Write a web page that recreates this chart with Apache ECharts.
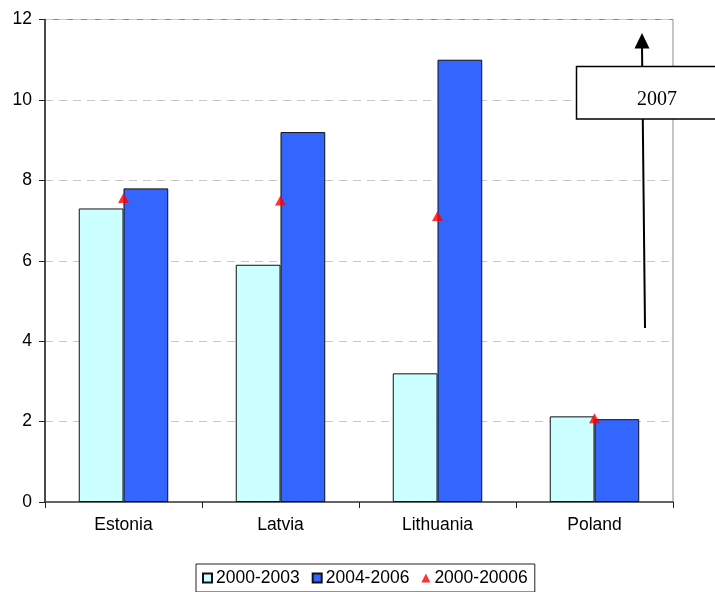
<!DOCTYPE html>
<html>
<head>
<meta charset="utf-8">
<style>
  html, body { margin: 0; padding: 0; background: #fff; }
  #chart { width: 715px; height: 592px; }
</style>
<script src="https://cdn.jsdelivr.net/npm/echarts@6/dist/echarts.min.js"></script>
</head>
<body>
<div id="chart"></div>
<script>
// Countries on the category axis
const countries = ['Estonia', 'Latvia', 'Lithuania', 'Poland'];
// Average growth per period
const period2000to2003 = [7.3, 5.9, 3.2, 2.13];
const period2004to2006 = [7.8, 9.2, 11.0, 2.06];
const period2000to2006 = [7.56, 7.5, 7.11, 2.08];
// Value axis ticks
const yTicks = [0, 2, 4, 6, 8, 10, 12];

const seriesNames = ['2000-2003', '2004-2006', '2000-20006'];
const font = 'Liberation Sans, Arial, sans-serif';

const chart = echarts.init(document.getElementById('chart'), null, { renderer: 'canvas' });

chart.setOption({
  animation: false,
  backgroundColor: '#ffffff',
  grid: {
    left: 45, right: 42, top: 19.5, bottom: 90,
    show: true, borderColor: '#8c8c8c', borderWidth: 1, backgroundColor: 'transparent'
  },
  legend: {
    left: 196, top: 564,
    padding: [5, 7, 5, 6],
    borderColor: '#222', borderWidth: 1,
    itemWidth: 9, itemHeight: 9, itemGap: 12,
    textStyle: { fontFamily: font, fontSize: 17.5, color: '#000', padding: [0, 0, 0, -1] },
    data: [
      { name: seriesNames[0], icon: 'rect' },
      { name: seriesNames[1], icon: 'rect' },
      { name: seriesNames[2], icon: 'triangle' }
    ]
  },
  xAxis: {
    type: 'category',
    data: countries,
    axisLine: { lineStyle: { color: '#444', width: 1.5 } },
    axisTick: { show: true, length: 6, lineStyle: { color: '#222' } },
    axisLabel: { fontFamily: font, fontSize: 17.5, color: '#000', margin: 14 }
  },
  yAxis: {
    type: 'value',
    min: yTicks[0], max: yTicks[yTicks.length - 1], interval: yTicks[1] - yTicks[0],
    axisLine: { show: true, lineStyle: { color: '#222', width: 1.5 } },
    axisTick: { show: true, length: 6, lineStyle: { color: '#222' } },
    axisLabel: { fontFamily: font, fontSize: 17.5, color: '#000', margin: 13 },
    splitLine: { show: true, lineStyle: { color: '#c8c8c8', type: [8, 6], width: 1 } }
  },
  series: [
    {
      name: seriesNames[0], type: 'bar', data: period2000to2003,
      barGap: '0%', barCategoryGap: '43%',
      itemStyle: { color: '#ccffff', borderColor: '#111', borderWidth: 1 }
    },
    {
      name: seriesNames[1], type: 'bar', data: period2004to2006,
      barGap: '0%', barCategoryGap: '43%',
      itemStyle: { color: '#3366ff', borderColor: '#111', borderWidth: 1 }
    },
    {
      name: seriesNames[2], type: 'scatter', data: period2000to2006,
      symbol: 'triangle', symbolSize: [11, 10], z: 5,
      itemStyle: { color: '#ff0000' }
    }
  ],
  graphic: [
    // pointer line behind the callout box
    { type: 'line', z: 10, shape: { x1: 645, y1: 328, x2: 642, y2: 46 },
      style: { stroke: '#000', lineWidth: 2 } },
    { type: 'polygon', z: 10, shape: { points: [[642, 33], [634.5, 48.5], [649.5, 48.5]] },
      style: { fill: '#000' } },
    // callout box
    { type: 'rect', z: 11, shape: { x: 576.5, y: 66.5, width: 150, height: 52.5 },
      style: { fill: '#fff', stroke: '#000', lineWidth: 1.5 } },
    { type: 'text', z: 12, x: 657, y: 100,
      style: { text: '2007', fill: '#000', font: '20px "Liberation Serif", "Times New Roman", serif',
               align: 'center', verticalAlign: 'middle' } }
  ]
});
</script>
</body>
</html>
